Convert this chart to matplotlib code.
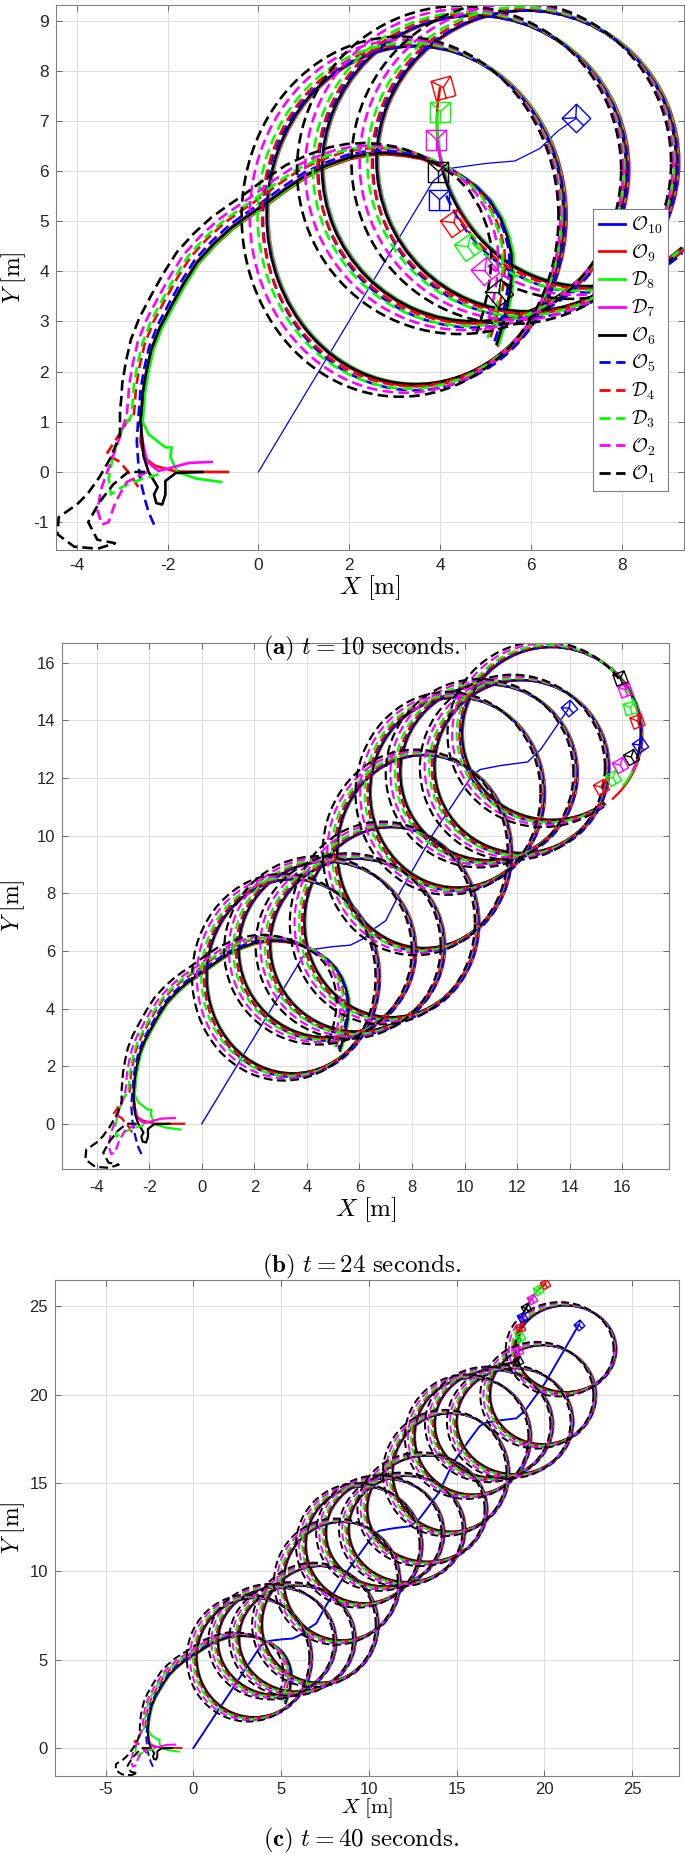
import numpy as np
import matplotlib.pyplot as plt
from matplotlib.patches import Arc
from matplotlib.path import Path
from matplotlib.markers import MarkerStyle
from matplotlib.transforms import Affine2D
from matplotlib.lines import Line2D

plt.rcParams['font.family'] = ['Liberation Sans', 'DejaVu Sans']
plt.rcParams['mathtext.fontset'] = 'cm'
plt.rcParams['axes.unicode_minus'] = False

# agents, legend order (O10 is the leader)
labels = [r'$\mathcal{O}_{10}$', r'$\mathcal{O}_{9}$', r'$\mathcal{D}_{8}$', r'$\mathcal{D}_{7}$',
          r'$\mathcal{O}_{6}$', r'$\mathcal{O}_{5}$', r'$\mathcal{D}_{4}$', r'$\mathcal{D}_{3}$',
          r'$\mathcal{O}_{2}$', r'$\mathcal{O}_{1}$']
colors = ['#0000ff', '#ff0000', '#00ff00', '#ff00ff', '#000000',
          '#0000ff', '#ff0000', '#00ff00', '#ff00ff', '#000000']
dashed = [False, False, False, False, False, True, True, True, True, True]

# leader path O10
lead_x = [0.00, 3.85, 4.20, 5.00, 5.65, 6.20, 6.60, 7.00, 7.56, 8.83, 9.85, 10.30, 10.60,
          11.40, 12.40, 12.90, 13.98, 14.83, 15.85, 16.30, 16.60, 17.40, 18.40, 18.90, 20.00, 21.96]
lead_y = [0.00, 5.80, 6.05, 6.15, 6.20, 6.45, 6.80, 7.05, 8.06, 10.10, 11.50, 12.10, 12.30,
          12.44, 12.56, 13.00, 14.44, 16.20, 17.60, 18.20, 18.40, 18.54, 18.66, 19.10, 20.60, 23.95]
lead_n = [8, 17, 26]

# loops of the followers (centre, half widths)
ring_cx = [3.45, 4.75, 5.90, 7.20, 8.45, 9.70, 10.90, 12.15, 13.30, 14.65, 15.90, 17.10, 18.30, 19.90, 21.20]
ring_cy = [5.12, 6.05, 6.20, 7.00, 9.45, 11.50, 12.20, 12.40, 13.55, 15.60, 17.65, 18.35, 18.50, 20.00, 22.60]
ring_rx = [3.27, 3.35, 3.30, 3.30, 3.30, 3.30, 3.35, 3.30, 3.40, 3.30, 3.30, 3.35, 3.30, 3.00, 2.85]
ring_ry = [3.37, 3.05, 3.00, 3.30, 3.35, 3.30, 3.05, 3.00, 3.00, 3.35, 3.30, 3.05, 3.00, 2.80, 2.45]
rings_full = [3, 8, 15]
seam_deg = -50

# follower shifts (O9, D8, D7, O6, O5, D4, D3, O2, O1)
ring_dx = [0.05, 0.04, 0.02, 0.0, -0.02, -0.06, -0.12, -0.22, -0.33]
ring_dy = [-0.02, 0.01, 0.0, 0.0, -0.06, 0.0, -0.01, -0.02, -0.03]
ring_dr = [0.02, 0.0, 0.0, 0.0, 0.06, 0.04, 0.08, 0.15, 0.22]
app_dx = [0.03, 0.05, 0.0, 0.0, -0.05, -0.15, -0.2, -0.3, -0.45]
app_dy = [-0.03, 0.0, 0.02, 0.0, 0.05, 0.1, 0.12, 0.15, 0.2]

# first big arc (O6)
app_x = [-2.60, -2.57, -2.55, -2.47, -2.36, -2.17, -1.92, -1.65, -1.35, -0.98, -0.58, -0.24, 0.10,
         0.58, 1.06, 1.53, 2.00, 2.40, 2.79, 3.18, 3.56, 4.00, 4.42, 4.80, 5.10, 5.33, 5.48, 5.57,
         5.58, 5.55, 5.48, 5.38, 5.25]
app_y = [1.00, 1.29, 1.57, 2.00, 2.44, 2.88, 3.31, 3.75, 4.18, 4.55, 4.88, 5.10, 5.31,
         5.63, 5.92, 6.12, 6.27, 6.34, 6.36, 6.33, 6.27, 6.12, 5.92, 5.68, 5.40, 5.06, 4.70, 4.35,
         4.00, 3.65, 3.30, 2.92, 2.55]

# starting manoeuvres of the followers
start_x = [[-0.67, -1.23, -1.82, -2.27, -2.50, -2.60],
           [-0.82, -1.38, -1.79, -1.94, -1.91, -2.05, -2.42],
           [-1.03, -1.53, -1.90, -2.20, -2.45, -2.55],
           [-1.23, -1.82, -2.05, -2.05, -2.12, -2.25, -2.30, -2.22, -2.42, -2.53],
           [-2.30, -2.42, -2.50, -2.57, -2.64, -2.68],
           [-2.65, -2.80, -3.05, -3.35, -3.10, -2.90],
           [-2.20, -2.60, -3.00, -3.25, -3.30, -3.18, -3.00],
           [-2.45, -2.90, -3.15, -3.30, -3.45, -3.55, -3.45, -3.25, -3.05],
           [-2.50, -2.87, -3.20, -3.50, -3.75, -3.55, -3.16, -3.54, -4.06, -4.43, -4.40, -4.00,
            -3.76, -3.50, -3.24, -3.05]]
start_y = [[0.00, 0.00, 0.01, 0.12, 0.27, 0.60],
           [-0.20, -0.13, 0.00, 0.30, 0.49, 0.49, 0.75],
           [0.20, 0.18, 0.09, 0.02, 0.20, 0.60],
           [0.00, -0.02, -0.18, -0.45, -0.65, -0.62, -0.45, -0.30, 0.00, 0.31],
           [-1.05, -0.80, -0.55, -0.28, 0.10, 0.60],
           [-0.30, -0.08, 0.20, 0.35, 0.70, 1.00],
           [-0.05, -0.15, -0.30, -0.45, -0.13, 0.40, 0.85],
           [0.00, -0.20, -0.60, -1.00, -1.05, -0.75, -0.30, 0.20, 0.70],
           [0.00, 0.00, -0.25, -0.60, -1.00, -1.35, -1.42, -1.53, -1.49, -1.24, -0.90, -0.65,
            -0.43, -0.10, 0.31, 0.75]]

# positions at t = 10, 24, 40 s (legend order)
mark_x = [[7.00, 4.07, 3.99, 3.91, 3.96, 3.97, 4.30, 4.62, 4.98, 5.29],
          [13.98, 15.19, 15.63, 15.92, 16.33, 16.69, 16.56, 16.30, 16.10, 15.92],
          [21.96, 20.03, 19.65, 19.27, 18.95, 18.70, 18.64, 18.60, 18.50, 18.50]]
mark_y = [[7.05, 7.66, 7.18, 6.62, 5.99, 5.43, 4.97, 4.49, 4.01, 3.57],
          [14.44, 11.68, 12.00, 12.44, 12.73, 13.14, 13.97, 14.44, 15.05, 15.49],
          [23.95, 26.24, 25.95, 25.44, 24.90, 24.37, 23.80, 23.29, 22.47, 21.90]]
mark_rot = [[45, 15, 0, 0, 0, 0, 35, 35, 40, 40],
            [40, 30, 30, 30, 30, 35, 20, 15, 20, 20],
            [40, 30, 30, 30, 30, 30, 30, 30, 30, 30]]

# leaving the last loop at t = 40 s
exit_x = [17.40, 17.90, 18.35]
exit_y = [21.70, 21.75, 21.85]

H = 1864.0
W = 685.0
panels = [
    dict(box=(56, 5, 684, 550), xlim=(-4.46, 9.375), ylim=(-1.556, 9.31),
         xticks=range(-4, 9, 2), yticks=range(-1, 10), tag='a', t=10, cap=648,
         lw=1.9, lw_lead=0.9, ms=14.5, fs=12.5, xl=18, ylpad=4, tpad=6),
    dict(box=(62, 643, 669, 1169), xlim=(-5.32, 17.78), ylim=(-1.57, 16.69),
         xticks=range(-4, 17, 2), yticks=range(0, 17, 2), tag='b', t=24, cap=1266,
         lw=1.6, lw_lead=1.0, ms=8.5, fs=12, xl=18, ylpad=7, tpad=8),
    dict(box=(55, 1280, 679, 1776), xlim=(-7.88, 27.67), ylim=(-1.58, 26.49),
         xticks=range(-5, 26, 5), yticks=range(0, 26, 5), tag='c', t=40, cap=1840,
         lw=1.4, lw_lead=1.4, ms=5.5, fs=12, xl=15, ylpad=2, tpad=4),
]

mverts = [(-1, -1), (1, -1), (1, 1), (-1, 1), (-1, -1),
          (-1, 1), (0, 0.1), (1, 1), (0, 0.1), (0, -1)]
mcodes = [Path.MOVETO, Path.LINETO, Path.LINETO, Path.LINETO, Path.CLOSEPOLY,
          Path.MOVETO, Path.LINETO, Path.LINETO, Path.MOVETO, Path.LINETO]
drone = Path(mverts, mcodes)
dash = (0, (4, 2))

fig = plt.figure(figsize=(W / 100, H / 100), dpi=100)

for k, p in enumerate(panels):
    l, t, r, b = p['box']
    ax = fig.add_axes([l / W, 1 - b / H, (r - l) / W, (b - t) / H])
    lw = p['lw']
    n = lead_n[k]
    ax.plot(lead_x[:n], lead_y[:n], color=colors[0], lw=p['lw_lead'], zorder=2)

    for i in range(1, 10):
        f = i - 1
        c = colors[i]
        ls = dash if dashed[i] else '-'
        xs = start_x[f] + [x + app_dx[f] for x in app_x]
        ys = start_y[f] + [y + app_dy[f] for y in app_y]
        ax.plot(xs, ys, color=c, lw=lw, linestyle=ls, zorder=2)

        def loop(j, t1=0, t2=360):
            cx = ring_cx[j] + ring_dx[f]
            cy = ring_cy[j] + ring_dy[f]
            arc = Arc((cx, cy), 2 * (ring_rx[j] + ring_dr[f]), 2 * (ring_ry[j] + ring_dr[f]),
                      theta1=t1, theta2=t2, color=c, lw=lw, linestyle=ls, zorder=2)
            ax.add_patch(arc)

        nf = rings_full[k]
        for j in range(nf):
            loop(j)
        if k < 2:
            cx = ring_cx[nf] + ring_dx[f]
            cy = ring_cy[nf] + ring_dy[f]
            ang = np.degrees(np.arctan2(mark_y[k][i] - cy, mark_x[k][i] - cx))
            while ang <= seam_deg:
                ang += 360
            while ang > seam_deg + 360:
                ang -= 360
            loop(nf, ang, seam_deg + 360)
        else:
            # markers of the followers behind this one, then its own
            ex = exit_x + mark_x[2][9:i - 1:-1]
            ey = exit_y + mark_y[2][9:i - 1:-1]
            ax.plot(ex, ey, color=c, lw=lw, linestyle=ls, zorder=2)

    for i in range(10):
        ms = MarkerStyle(drone, transform=Affine2D().rotate_deg(mark_rot[k][i]))
        ax.plot([mark_x[k][i]], [mark_y[k][i]], marker=ms, ms=p['ms'], mfc='none',
                mec=colors[i], mew=1.0, linestyle='none', zorder=3)

    ax.set_xlim(*p['xlim'])
    ax.set_ylim(*p['ylim'])
    ax.set_xticks(list(p['xticks']))
    ax.set_yticks(list(p['yticks']))
    ax.grid(True, color='#dcdcdc', lw=0.7)
    ax.set_axisbelow(True)
    ax.tick_params(direction='in', top=True, right=True, length=4, width=0.6,
                   color='0.35', labelcolor='#262626', labelsize=p['fs'])
    ax.tick_params(axis='x', pad=p['tpad'])
    ax.tick_params(axis='y', pad=5)
    for s in ax.spines.values():
        s.set_color('0.5')
        s.set_linewidth(0.8)
    ax.set_xlabel(r'$X\ \mathrm{[m]}$', fontsize=p['xl'], labelpad=0)
    ax.set_ylabel(r'$Y\ \mathrm{[m]}$', fontsize=17, labelpad=p['ylpad'])
    fig.text(0.528, 1 - p['cap'] / H,
             r'$\mathbf{(%s)}\ t = %d\ \mathrm{seconds.}$' % (p['tag'], p['t']),
             ha='center', va='center', fontsize=18)

    if k == 0:
        handles = [Line2D([], [], color=colors[i], lw=2.0, linestyle=dash if dashed[i] else '-')
                   for i in range(10)]
        leg = ax.legend(handles, labels, loc='lower right', bbox_to_anchor=(0.975, 0.108),
                        borderaxespad=0, fontsize=14, labelspacing=0.33, handlelength=1.35,
                        handletextpad=0.3, borderpad=0.3, fancybox=False, framealpha=1)
        leg.get_frame().set_edgecolor('0.5')
        leg.get_frame().set_linewidth(0.8)

fig.savefig('out.png', dpi=100)
